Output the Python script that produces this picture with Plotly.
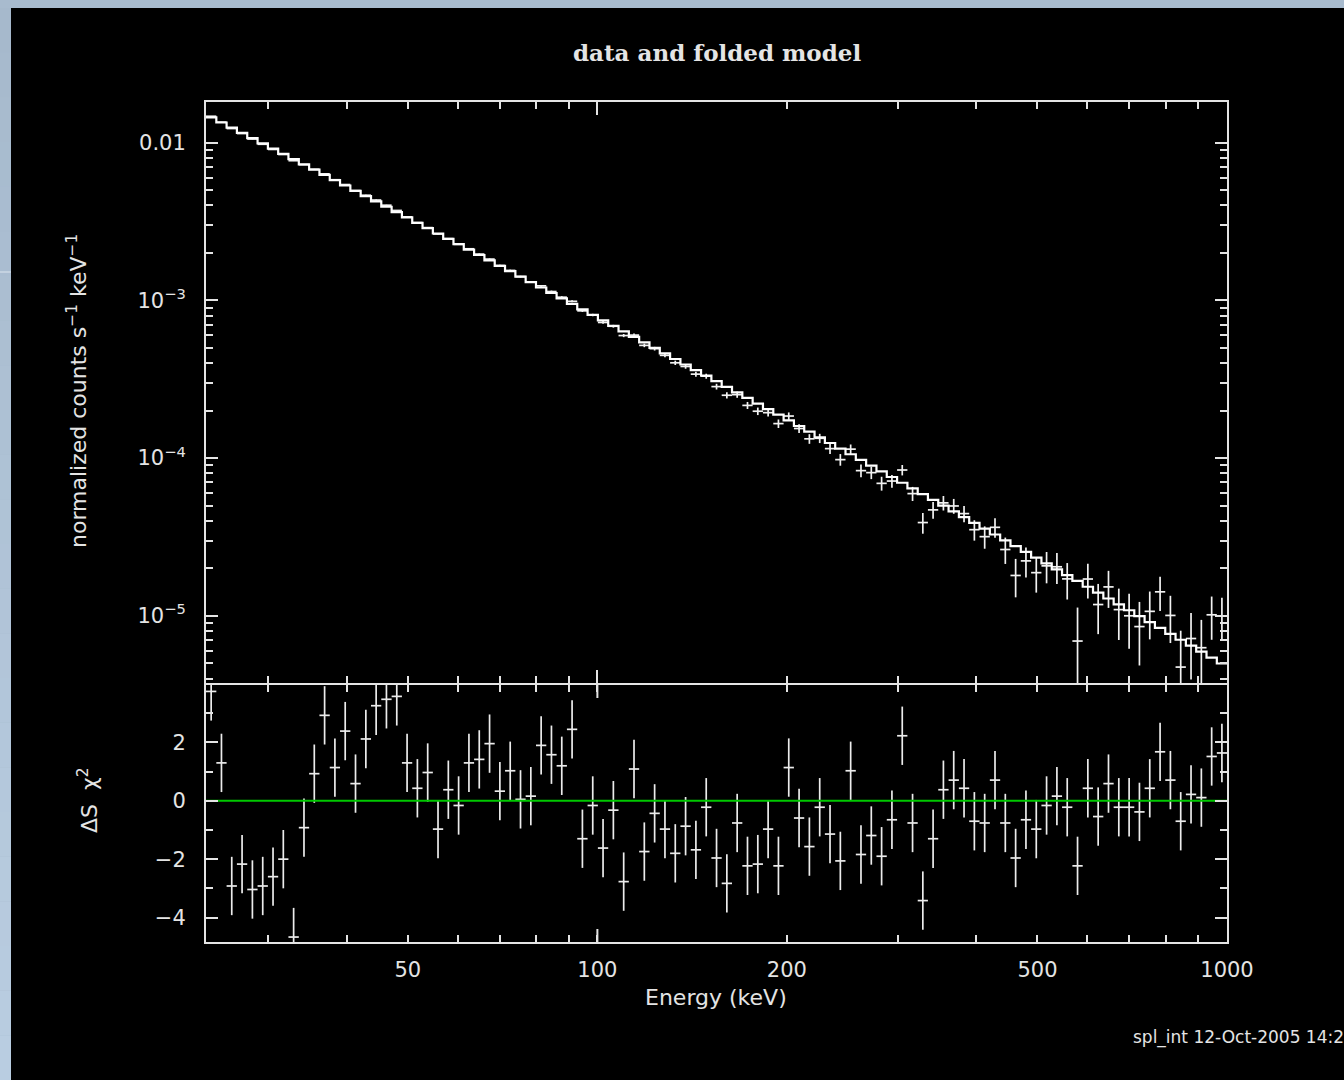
import math
import plotly.graph_objects as go

# Energy bin edges (keV), 99 logarithmic channels
edges = [23.90, 24.82, 25.77, 26.76, 27.79, 28.86, 29.97, 31.12, 32.31, 33.56,
         34.85, 36.19, 37.58, 39.02, 40.52, 42.08, 43.70, 45.37, 47.12, 48.93,
         50.81, 52.76, 54.79, 56.90, 59.08, 61.35, 63.71, 66.16, 68.70, 71.34,
         74.09, 76.93, 79.89, 82.96, 86.15, 89.46, 92.90, 96.48, 100.19, 104.04,
         108.04, 112.20, 116.51, 120.99, 125.64, 130.47, 135.49, 140.70, 146.11, 151.73,
         157.56, 163.62, 169.91, 176.45, 183.23, 190.28, 197.59, 205.19, 213.08, 221.27,
         229.78, 238.62, 247.79, 257.32, 267.21, 277.49, 288.16, 299.24, 310.75, 322.69,
         334.97, 347.85, 361.23, 375.12, 389.54, 404.52, 420.08, 436.23, 453.00, 470.42,
         488.51, 507.30, 526.80, 547.06, 568.10, 589.94, 612.63, 636.18, 660.65, 686.05,
         712.43, 739.83, 768.28, 797.82, 828.50, 860.36, 893.44, 927.80, 963.48, 1000.0]

# Folded model, normalized counts s^-1 keV^-1 per channel
model = [0.01446, 0.01340, 0.01242, 0.01151, 0.01067, 0.009882, 0.009155, 0.008481, 0.007855, 0.007274,
         0.006735, 0.006235, 0.005772, 0.005341, 0.004944, 0.004574, 0.004232, 0.003916, 0.003623, 0.003351,
         0.003099, 0.002867, 0.002651, 0.002452, 0.002267, 0.002096, 0.001937, 0.001790, 0.001655, 0.001529,
         0.001412, 0.001304, 0.001205, 0.001112, 0.001028, 9.489e-4, 8.761e-4, 8.089e-4, 7.466e-4, 6.893e-4,
         6.358e-4, 5.868e-4, 5.411e-4, 4.992e-4, 4.604e-4, 4.246e-4, 3.917e-4, 3.611e-4, 3.330e-4, 3.070e-4,
         2.830e-4, 2.609e-4, 2.404e-4, 2.216e-4, 2.042e-4, 1.882e-4, 1.733e-4, 1.596e-4, 1.470e-4, 1.354e-4,
         1.246e-4, 1.148e-4, 1.057e-4, 9.725e-5, 8.951e-5, 8.237e-5, 7.581e-5, 6.975e-5, 6.415e-5, 5.903e-5,
         5.426e-5, 4.990e-5, 4.588e-5, 4.218e-5, 3.879e-5, 3.565e-5, 3.277e-5, 3.011e-5, 2.767e-5, 2.543e-5,
         2.337e-5, 2.147e-5, 1.972e-5, 1.812e-5, 1.664e-5, 1.528e-5, 1.402e-5, 1.287e-5, 1.181e-5, 1.084e-5,
         9.951e-6, 9.131e-6, 8.378e-6, 7.686e-6, 7.050e-6, 6.466e-6, 5.931e-6, 5.436e-6, 4.984e-6]

# Residuals: sign(data - model) * sqrt(chi^2 contribution), in units of sigma
resid = [3.75, 1.30, -2.92, -2.17, -3.04, -2.92, -2.60, -2.00, -4.67, -0.92,
         0.93, 2.93, 1.14, 2.39, 0.59, 2.12, 3.26, 3.48, 3.58, 1.30,
         0.43, 0.97, -0.97, 0.38, -0.16, 1.30, 1.42, 1.96, 0.33, 1.03,
         0.05, 0.16, 1.90, 1.58, 1.20, 2.45, -1.30, -0.16, -1.62, -0.32,
         -2.77, 1.09, -1.74, -0.43, -0.97, -1.80, -0.87, -1.68, -0.22, -1.96,
         -2.83, -0.76, -2.23, -2.17, -0.97, -2.23, 1.14, -0.59, -1.57, -0.22,
         -1.14, -2.06, 1.03, -1.84, -1.19, -1.90, -0.65, 2.23, -0.76, -3.42,
         -1.30, 0.38, 0.71, 0.43, -0.70, -0.76, 0.71, -0.76, -1.96, -0.65,
         -0.97, -0.16, 0.16, -0.22, -2.23, 0.43, -0.54, 0.59, -0.22, -0.22,
         -0.38, 0.43, 1.68, 0.71, -0.70, 0.22, 0.11, 1.52, 1.64]

# 1-sigma uncertainty of each channel relative to the model
rel_err = [0.0040, 0.0041, 0.0042, 0.0043, 0.0044, 0.0045, 0.0047, 0.0048, 0.0050, 0.0051,
           0.0053, 0.0054, 0.0056, 0.0058, 0.0060, 0.0062, 0.0064, 0.0066, 0.0068, 0.0070,
           0.0073, 0.0076, 0.0079, 0.0082, 0.0086, 0.0090, 0.0094, 0.0099, 0.0104, 0.0110,
           0.0116, 0.0123, 0.0130, 0.0138, 0.0147, 0.0156, 0.0166, 0.0177, 0.0189, 0.0202,
           0.0216, 0.0231, 0.0247, 0.0264, 0.0282, 0.0301, 0.0321, 0.0342, 0.0364, 0.0387,
           0.0411, 0.0436, 0.0462, 0.0489, 0.0517, 0.0545, 0.0574, 0.0603, 0.0633, 0.0663,
           0.0693, 0.0723, 0.0753, 0.0784, 0.0815, 0.0847, 0.0880, 0.0915, 0.0952, 0.0992,
           0.104, 0.110, 0.117, 0.125, 0.134, 0.144, 0.155, 0.166, 0.178, 0.190,
           0.203, 0.217, 0.231, 0.246, 0.262, 0.278, 0.295, 0.313, 0.332, 0.352,
           0.372, 0.392, 0.413, 0.434, 0.47, 0.50, 0.53, 0.57, 0.61]

x_tick_major = [100, 1000]
x_tick_labels = [50, 100, 200, 500, 1000]
x_tick_minor = [30, 40, 50, 60, 70, 80, 90, 200, 300, 400, 500, 600, 700, 800, 900]
y_top_major = [1e-5, 1e-4, 1e-3, 1e-2]
y_top_text = ["10<sup>\u22125</sup>", "10<sup>\u22124</sup>", "10<sup>\u22123</sup>", "0.01"]
y_top_minor = [m * 10.0 ** p for p in (-6, -5, -4, -3) for m in range(2, 10)]
y_bot_major = [-4, -2, 0, 2]
y_bot_text = ["\u22124", "\u22122", "0", "2"]
y_bot_minor = [-3, -1, 1, 3]

# ---- derived quantities -------------------------------------------------
lo = edges[:-1]
hi = edges[1:]
cen = [math.sqrt(a * b) for a, b in zip(lo, hi)]
err = [m * r for m, r in zip(model, rel_err)]
data = [m + d * e for m, d, e in zip(model, resid, err)]


def crosses(xc, xl, xh, y, ylo, yhi):
    xs, ys = [], []
    for c, a, b, v, l, h in zip(xc, xl, xh, y, ylo, yhi):
        xs += [a, b, None, c, c, None]
        ys += [v, v, None, l, h, None]
    return xs, ys


top_x, top_y = crosses(cen, lo, hi, data,
                       [max(d - e, 1e-8) for d, e in zip(data, err)],
                       [d + e for d, e in zip(data, err)])
bot_x, bot_y = crosses(cen, lo, hi, resid,
                       [r - 1 for r in resid], [r + 1 for r in resid])

W, H = 1344, 1080
FG = "#e4e4e4"

fig = go.Figure()
fig.add_trace(go.Scatter(x=top_x, y=top_y, mode="lines", xaxis="x", yaxis="y",
                         line=dict(color="#f2f2f2", width=1.7), hoverinfo="skip"))
fig.add_trace(go.Scatter(x=edges, y=model + [model[-1]], mode="lines", xaxis="x", yaxis="y",
                         line=dict(color="#ffffff", width=2.2, shape="hv"), hoverinfo="skip"))
fig.add_trace(go.Scatter(x=bot_x, y=bot_y, mode="lines", xaxis="x2", yaxis="y2",
                         line=dict(color="#ececec", width=1.7), hoverinfo="skip"))
fig.add_trace(go.Scatter(x=[edges[0], edges[-1]], y=[0, 0], mode="lines", xaxis="x2", yaxis="y2",
                         line=dict(color="#00c800", width=2), hoverinfo="skip"))

# panel boxes (pixel rows 102-685 and 685-942); the upper panel stops 2 px
# short so that its bottom frame line coincides with the lower panel's top line
X_DOM = [206 / W, 1227 / W]
Y_TOP = [1 - 683 / H, 1 - 102 / H]
Y_BOT = [1 - 942 / H, 1 - 685 / H]
TICKFONT = dict(family="DejaVu Sans", size=21, color=FG)

frame = dict(showline=True, linecolor=FG, linewidth=2, mirror="allticks", automargin=False,
             ticks="inside", tickcolor=FG, tickwidth=2, showgrid=False, zeroline=False)

fig.update_layout(
    width=W, height=H, autosize=False,
    margin=dict(l=0, r=0, t=0, b=0, pad=0),
    paper_bgcolor="#a8bbce",
    plot_bgcolor="#000000",
    showlegend=False,
    font=dict(family="DejaVu Sans", color=FG, size=21),
    xaxis=dict(frame, type="log", domain=X_DOM, anchor="y",
               range=[math.log10(edges[0]), math.log10(edges[-1])],
               tickmode="array", tickvals=x_tick_major, ticklen=13, showticklabels=False,
               minor=dict(tickmode="array", tickvals=x_tick_minor, ticklen=7,
                          tickwidth=2, tickcolor=FG, ticks="inside")),
    xaxis2=dict(frame, type="log", domain=X_DOM, anchor="y2",
                range=[math.log10(edges[0]), math.log10(edges[-1])],
                tickmode="array", tickvals=x_tick_labels,
                ticktext=[str(v) for v in x_tick_labels], ticklen=7,
                tickfont=TICKFONT, ticklabelstandoff=8,
                minor=dict(tickmode="array", tickvals=[30, 40, 60, 70, 80, 90, 300, 400, 600, 700, 800, 900],
                           ticklen=7, tickwidth=2, tickcolor=FG, ticks="inside")),
    yaxis=dict(frame, type="log", domain=Y_TOP, anchor="x",
               range=[-5.426, -1.743], tickmode="array", tickvals=y_top_major,
               ticktext=y_top_text, ticklen=12, tickfont=TICKFONT, ticklabelstandoff=14,
               minor=dict(tickmode="array", tickvals=y_top_minor, ticklen=7,
                          tickwidth=2, tickcolor=FG, ticks="inside")),
    yaxis2=dict(frame, domain=Y_BOT, anchor="x2", range=[-4.84, 3.97],
                tickmode="array", tickvals=y_bot_major, ticktext=y_bot_text, ticklen=12,
                tickfont=TICKFONT, ticklabelstandoff=14,
                minor=dict(tickmode="array", tickvals=y_bot_minor, ticklen=7,
                           tickwidth=2, tickcolor=FG, ticks="inside")),
)

# Window backdrop: bluish frame strip on the left with a soft vertical gradient
shapes = []
top_rgb = (166, 185, 204)
bot_rgb = (185, 205, 225)
nb = 24
for i in range(nb):
    t = i / (nb - 1)
    c = tuple(round(a + (b - a) * t) for a, b in zip(top_rgb, bot_rgb))
    y1 = 1 - (8 + (H - 8) * i / nb) / H
    y0 = 1 - (8 + (H - 8) * (i + 1) / nb) / H
    shapes.append(dict(type="rect", xref="paper", yref="paper", x0=0, x1=11 / W,
                       y0=y0, y1=y1, line=dict(width=0),
                       fillcolor="rgb(%d,%d,%d)" % c, layer="below"))
shapes.append(dict(type="rect", xref="paper", yref="paper", x0=11 / W, x1=1,
                   y0=0, y1=1 - 8 / H, line=dict(width=0), fillcolor="#000000", layer="below"))
shapes.append(dict(type="line", xref="paper", yref="paper", x0=0, x1=11 / W,
                   y0=1 - 272 / H, y1=1 - 272 / H, line=dict(color="#dde6ef", width=1),
                   layer="below"))
# longer decade tick at 100 keV on the residual panel
for y0, y1 in ((0, 13 / 257), (1 - 13 / 257, 1)):
    shapes.append(dict(type="line", xref="x2", yref="y2 domain", x0=100, x1=100,
                       y0=y0, y1=y1, line=dict(color=FG, width=2)))
fig.update_layout(shapes=shapes)

ann = [
    dict(text="data and folded model", x=717 / W, y=1 - 52 / H,
         font=dict(family="DejaVu Serif", size=23, color=FG, weight="bold")),
    dict(text="normalized counts s<sup>\u22121</sup> keV<sup>\u22121</sup>", x=77 / W, y=1 - 391 / H,
         textangle=-90, font=dict(family="DejaVu Sans", size=22, color=FG)),
    dict(text="\u0394S  \u03c7<sup>2</sup>", x=88 / W, y=1 - 800 / H,
         textangle=-90, font=dict(family="DejaVu Sans", size=22, color=FG)),
    dict(text="Energy (keV)", x=716 / W, y=1 - 997 / H,
         font=dict(family="DejaVu Sans", size=22, color=FG)),
    dict(text="spl_int 12-Oct-2005 14:2", x=1131 / W, y=1 - 1037 / H, xanchor="left",
         font=dict(family="DejaVu Sans", size=17, color=FG)),
]
for a in ann:
    a.update(xref="paper", yref="paper", showarrow=False)
    a.setdefault("xanchor", "center")
    a.setdefault("yanchor", "middle")
fig.update_layout(annotations=ann)

fig.write_html("out.html", config={"displayModeBar": False, "responsive": False},
               default_width="%dpx" % W, default_height="%dpx" % H)
